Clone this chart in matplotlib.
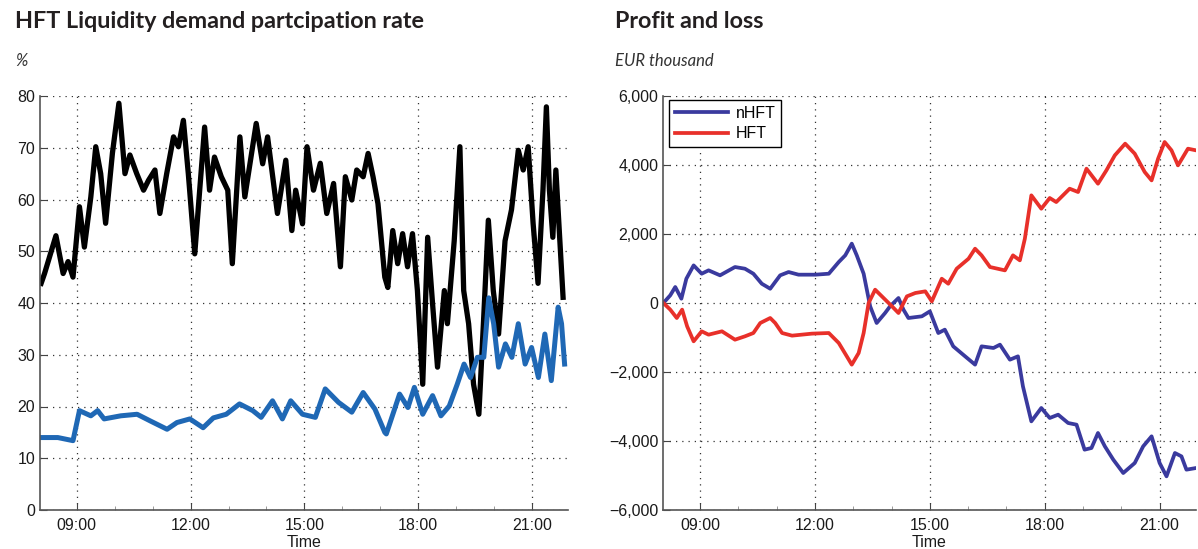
import matplotlib
matplotlib.use("Agg")
import matplotlib.pyplot as plt
from matplotlib.ticker import FixedLocator, FuncFormatter, MultipleLocator

# ---------------- data (time in hours) ----------------
hft_demand_t = [8.06, 8.15, 8.45, 8.64, 8.77, 8.90, 9.07, 9.20, 9.37, 9.50, 9.63, 9.76,
                9.94, 10.11, 10.27, 10.40, 10.58, 10.76, 10.89, 11.06, 11.19, 11.37,
                11.55, 11.68, 11.81, 11.94, 12.11, 12.24, 12.37, 12.50, 12.63, 12.81,
                12.98, 13.10, 13.30, 13.43, 13.73, 13.90, 14.03, 14.29, 14.51, 14.67,
                14.77, 14.95, 15.07, 15.24, 15.42, 15.59, 15.77, 15.95, 16.08, 16.25,
                16.38, 16.55, 16.68, 16.81, 16.94, 17.12, 17.20, 17.33, 17.46, 17.59,
                17.72, 17.85, 17.98, 18.12, 18.25, 18.38, 18.51, 18.69, 18.77, 18.95,
                19.10, 19.20, 19.33, 19.46, 19.60, 19.72, 19.85, 19.98, 20.12, 20.29,
                20.46, 20.64, 20.77, 20.90, 21.03, 21.16, 21.29, 21.38, 21.46, 21.55,
                21.63, 21.72, 21.82]
hft_demand = [43.8, 45.7, 53.0, 45.7, 48.0, 45.0, 58.6, 50.8, 60.5, 70.2, 65.0, 55.4,
              69.0, 78.6, 65.0, 68.6, 65.0, 61.8, 63.7, 65.7, 57.3, 65.0, 72.1, 70.2,
              75.3, 65.0, 49.5, 61.8, 74.0, 61.8, 68.2, 64.4, 61.8, 47.6, 72.1, 60.5,
              74.7, 66.9, 72.1, 57.3, 67.6, 54.0, 61.8, 55.3, 70.2, 61.8, 67.0, 57.3,
              63.1, 47.0, 64.4, 59.9, 65.7, 64.4, 68.9, 64.4, 59.2, 45.0, 43.0, 54.0,
              47.6, 53.4, 47.0, 53.4, 42.4, 24.3, 52.7, 39.8, 27.6, 42.4, 36.0, 52.0,
              70.2, 42.4, 36.0, 24.3, 18.5, 36.0, 56.0, 42.4, 34.0, 52.0, 58.0, 69.5,
              65.7, 70.2, 55.4, 43.8, 61.8, 77.9, 61.8, 52.7, 65.7, 54.0, 41.1]

hft_supply_t = [8.07, 8.50, 8.90, 9.07, 9.37, 9.55, 9.72, 10.16, 10.59, 10.94, 11.38,
                11.64, 11.98, 12.33, 12.60, 12.94, 13.29, 13.64, 13.86, 14.16, 14.42,
                14.64, 14.95, 15.29, 15.55, 15.90, 16.25, 16.55, 16.86, 17.12, 17.16,
                17.51, 17.73, 17.90, 18.12, 18.38, 18.60, 18.82, 19.03, 19.21, 19.38,
                19.56, 19.73, 19.86, 19.99, 20.12, 20.30, 20.47, 20.64, 20.82, 20.99,
                21.17, 21.34, 21.51, 21.69, 21.78, 21.86]
hft_supply = [14.0, 14.0, 13.4, 19.2, 18.2, 19.2, 17.6, 18.2, 18.5, 17.2, 15.6,
              16.9, 17.6, 15.9, 17.8, 18.5, 20.5, 19.2, 17.9, 21.1, 17.6,
              21.1, 18.5, 17.9, 23.4, 20.8, 18.9, 22.7, 19.5, 15.0, 14.7,
              22.4, 19.8, 23.7, 18.5, 22.1, 18.2, 20.1, 24.3, 28.2, 25.6,
              29.5, 29.5, 41.0, 36.0, 27.6, 32.1, 29.5, 36.0, 28.2, 31.4,
              25.6, 34.0, 25.0, 39.2, 36.0, 28.2]

pnl_t = [8.04, 8.22, 8.35, 8.51, 8.64, 8.83, 9.04, 9.22, 9.52, 9.91, 10.17, 10.39,
         10.61, 10.83, 10.96, 11.09, 11.31, 11.57, 12.01, 12.36, 12.62, 12.79, 12.96,
         13.09, 13.27, 13.44, 13.61, 13.83, 13.96, 14.18, 14.31, 14.44, 14.79, 15.00,
         15.22, 15.39, 15.61, 15.92, 16.18, 16.35, 16.66, 16.83, 17.09, 17.30, 17.43,
         17.65, 17.91, 18.13, 18.35, 18.61, 18.83, 19.04, 19.22, 19.39, 19.57, 19.79,
         20.05, 20.35, 20.57, 20.79, 21.00, 21.18, 21.40, 21.57, 21.70, 21.95]
nhft = [0, 223, 464, 125, 704, 1090, 849, 946, 802, 1043, 994, 849, 559, 414, 609,
        802, 898, 821, 821, 849, 1188, 1382, 1720, 1382, 849, -96, -580, -290, -96,
        145, -193, -435, -386, -242, -870, -773, -1256, -1546, -1787, -1256, -1304,
        -1208, -1643, -1546, -2415, -3430, -3043, -3333, -3237, -3478, -3527, -4251,
        -4203, -3768, -4155, -4541, -4928, -4638, -4155, -3865, -4638, -5024, -4348,
        -4445, -4831, -4783]

hft_t = [8.04, 8.22, 8.39, 8.53, 8.66, 8.83, 9.04, 9.22, 9.57, 9.91, 10.17, 10.39,
         10.57, 10.83, 10.96, 11.14, 11.40, 11.92, 12.36, 12.62, 12.83, 12.96, 13.14,
         13.27, 13.40, 13.57, 13.79, 14.01, 14.18, 14.40, 14.62, 14.88, 15.05, 15.31,
         15.48, 15.70, 16.01, 16.18, 16.35, 16.57, 16.96, 17.17, 17.35, 17.48, 17.65,
         17.91, 18.13, 18.30, 18.65, 18.87, 19.09, 19.39, 19.61, 19.83, 20.10, 20.35,
         20.61, 20.79, 20.96, 21.13, 21.31, 21.48, 21.74, 21.95]
hft = [0, -193, -435, -193, -676, -1111, -821, -918, -821, -1063, -966, -870, -580,
       -435, -580, -870, -946, -888, -870, -1159, -1546, -1787, -1449, -870, 0, 386,
       145, -96, -290, 193, 290, 338, 48, 704, 559, 994, 1284, 1574, 1381, 1043, 946,
       1381, 1236, 1862, 3120, 2733, 3043, 2926, 3313, 3217, 3893, 3458, 3845, 4280,
       4618, 4328, 3797, 3555, 4183, 4667, 4425, 3990, 4473, 4425]

# ---------------- figure ----------------
plt.rcParams['font.family'] = ['Liberation Sans', 'DejaVu Sans']
fig = plt.figure(figsize=(11.98, 5.49), dpi=100)

XMIN, XMAX = 8.03, 21.95
tick_hours = [9, 12, 15, 18, 21]
fmt_time = FuncFormatter(lambda v, p: f"{int(round(v)):02d}:00")


def style_axes(ax):
    ax.set_xlim(XMIN, XMAX)
    ax.xaxis.set_major_locator(FixedLocator(tick_hours))
    ax.xaxis.set_minor_locator(MultipleLocator(1))
    ax.xaxis.set_major_formatter(fmt_time)
    for s in ['top', 'right']:
        ax.spines[s].set_visible(False)
    for s in ['left', 'bottom']:
        ax.spines[s].set_color('#555555')
        ax.spines[s].set_linewidth(1.2)
    ax.tick_params(axis='both', which='major', direction='in', length=5,
                   labelsize=11.5, color='#444444', labelcolor='#1a1a1a')
    ax.tick_params(axis='x', which='minor', direction='in', length=3, color='#888888')
    ax.tick_params(axis='x', pad=6)
    ax.grid(True, which='major', linestyle=(0, (1, 4)), color='#333333', linewidth=0.9)
    ax.set_xlabel('Time', fontsize=11.5, labelpad=1, color='#1a1a1a')


# left panel
ax1 = fig.add_axes([40 / 1198, 1 - 510 / 549, 528 / 1198, 414 / 549])
ax1.plot(hft_demand_t, hft_demand, color='black', linewidth=3.8, solid_joinstyle='round')
ax1.plot(hft_supply_t, hft_supply, color='#1f68b5', linewidth=3.6, solid_joinstyle='round')
ax1.set_ylim(0, 80)
ax1.yaxis.set_major_locator(MultipleLocator(10))
style_axes(ax1)

# right panel
ax2 = fig.add_axes([663 / 1198, 1 - 510 / 549, 533 / 1198, 414 / 549])
ax2.plot(pnl_t, nhft, color='#3a3a9e', linewidth=2.7, label='nHFT',
         solid_joinstyle='round')
ax2.plot(hft_t, hft, color='#e8302a', linewidth=2.7, label='HFT',
         solid_joinstyle='round')
ax2.set_ylim(-6000, 6000)
ax2.yaxis.set_major_locator(MultipleLocator(2000))
ax2.yaxis.set_major_formatter(FuncFormatter(
    lambda v, p: ('\u2212' if v < 0 else '') + f"{abs(int(v)):,}"))
style_axes(ax2)
leg = ax2.legend(loc='upper left', fontsize=11.5, fancybox=False, framealpha=1,
                 edgecolor='black', handlelength=3.3, handletextpad=0.5,
                 borderpad=0.35, borderaxespad=0, labelspacing=0.35,
                 bbox_to_anchor=(0.012, 0.99))
leg.get_frame().set_linewidth(1.0)

# titles
fig.text(15 / 1198, 1 - 22 / 549, 'HFT Liquidity demand partcipation rate',
         fontsize=16.8, fontweight='bold', family=['Lato', 'DejaVu Sans'],
         color='#231f20', va='center')
fig.text(15 / 1198, 1 - 61 / 549, '%', fontsize=12, style='italic',
         family=['Lato', 'DejaVu Sans'], color='#333333', va='center')
fig.text(615 / 1198, 1 - 22 / 549, 'Profit and loss',
         fontsize=16.8, fontweight='bold', family=['Lato', 'DejaVu Sans'],
         color='#231f20', va='center')
fig.text(615 / 1198, 1 - 61 / 549, 'EUR thousand', fontsize=12, style='italic',
         family=['Lato', 'DejaVu Sans'], color='#333333', va='center')

fig.savefig('out.png', dpi=100)
